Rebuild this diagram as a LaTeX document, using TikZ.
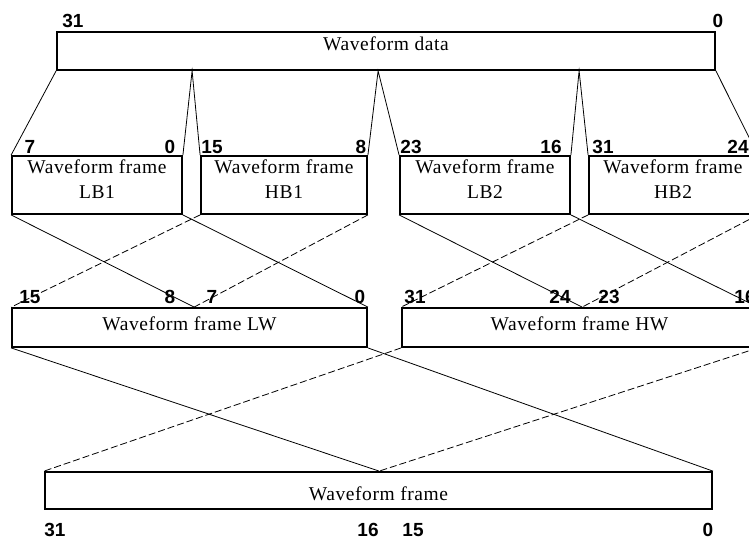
\documentclass[tikz,border=0pt]{standalone}
\usepackage{fontspec}
\setmainfont{Liberation Serif}
\newfontfamily\numfont{Liberation Sans}
\usetikzlibrary{calc}
\begin{document}
\begin{tikzpicture}[x=1pt,y=-1pt,
  box/.style={draw,line width=1.8pt,inner sep=0pt,minimum height=#1},
  box/.default=38,
  txt/.style={inner sep=0pt,font=\fontsize{19.5}{25}\selectfont\addfontfeature{LetterSpace=3},align=center},
  num/.style={inner sep=0pt,font=\numfont\bfseries\fontsize{19}{19}\selectfont},
  conn/.style={line width=0.8pt},
  dconn/.style={line width=0.8pt,dash pattern=on 7pt off 3pt}]
\useasboundingbox (0,0) rectangle (749,542);
\clip (0,0) rectangle (749,542);
% boxes
\node[box=38,minimum width=658] (wd) at (386,51) {};
\node[box=58,minimum width=170] (lb1) at (97,185) {};
\node[box=58,minimum width=166] (hb1) at (284,185) {};
\node[box=58,minimum width=170] (lb2) at (485,185) {};
\node[box=58,minimum width=168] (hb2) at (673,185) {};
\node[box=39,minimum width=355] (lw) at (189.5,327.5) {};
\node[box=39,minimum width=355] (hw) at (579.5,327.5) {};
\node[box=37,minimum width=667] (wf) at (378.5,490.5) {};
% texts
\node[txt,anchor=base] (twd) at (386,50) {Waveform data};
\node[txt] (tlb1) at (97,179) {Waveform frame\\LB1};
\node[txt] (thb1) at (284,179) {Waveform frame\\HB1};
\node[txt] (tlb2) at (485,179) {Waveform frame\\LB2};
\node[txt] (thb2) at (673,179) {Waveform frame\\HB2};
\node[txt,anchor=base] (tlw) at (189.5,330) {Waveform frame LW};
\node[txt,anchor=base] (thw) at (579.5,330) {Waveform frame HW};
\node[txt,anchor=base] (twf) at (378.5,500) {Waveform frame};
% numbers
\node[num] (a31) at (73,21) {31};
\node[num] (a0) at (718,21) {0};
\node[num] (b7) at (30,147) {7};
\node[num] (b0) at (170,147) {0};
\node[num] (b15) at (212,147) {15};
\node[num] (b8) at (361,147) {8};
\node[num] (b23) at (411,147) {23};
\node[num] (b16) at (551,147) {16};
\node[num] (b31) at (603,147) {31};
\node[num] (b24) at (738,147) {24};
\node[num] (c15) at (30,297) {15};
\node[num] (c8) at (170,297) {8};
\node[num] (c7) at (212,297) {7};
\node[num] (c0) at (360,297) {0};
\node[num] (c31) at (415,297) {31};
\node[num] (c24) at (560,297) {24};
\node[num] (c23) at (609,297) {23};
\node[num] (c16) at (745,297) {16};
\node[num] (d31) at (55,530) {31};
\node[num] (d16) at (368,530) {16};
\node[num] (d15) at (413,530) {15};
\node[num] (d0) at (708,530) {0};
% split points
\coordinate (m1) at ($(wd.south west)+(136,0)$);
\coordinate (m2) at ($(wd.south west)+(322,0)$);
\coordinate (m3) at ($(wd.south west)+(523,0)$);
\coordinate (lwm) at ($(lw.north west)+(183,0)$);
\coordinate (hwm) at ($(hw.north west)+(181,0)$);
\coordinate (wfm) at ($(wf.north west)+(335,0)$);
% top to row 2
\draw[conn] (wd.south west) -- (lb1.north west);
\draw[conn] (lb1.north east) -- (m1) -- (hb1.north west);
\draw[conn] (hb1.north east) -- (m2) -- (lb2.north west);
\draw[conn] (lb2.north east) -- (m3) -- (hb2.north west);
\draw[conn] (wd.south east) -- (hb2.north east);
% row 2 to row 3
\draw[conn] (lb1.south west) -- (lwm);
\draw[conn] (lb1.south east) -- (lw.north east);
\draw[dconn] (hb1.south west) -- (lw.north west);
\draw[dconn] (hb1.south east) -- (lwm);
\draw[conn] (lb2.south west) -- (hwm);
\draw[conn] (lb2.south east) -- (hw.north east);
\draw[dconn] (hb2.south west) -- (hw.north west);
\draw[dconn] (hb2.south east) -- (hwm);
% row 3 to row 4
\draw[conn] (lw.south west) -- (wfm);
\draw[conn] (lw.south east) -- (wf.north east);
\draw[dconn] (hw.south west) -- (wf.north west);
\draw[dconn] (hw.south east) -- (wfm);
\end{tikzpicture}
\end{document}
